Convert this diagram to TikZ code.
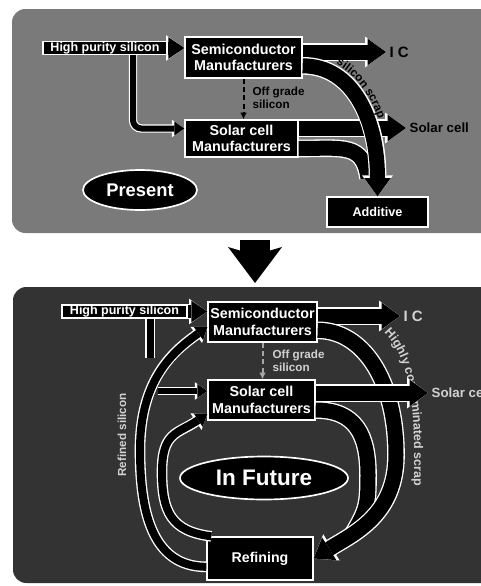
\documentclass[tikz,border=0pt]{standalone}
\usepackage{fontspec}
\setmainfont{Liberation Sans}
\usetikzlibrary{arrows.meta}
\usetikzlibrary{shapes.geometric}
\usetikzlibrary{decorations.text}

\begin{document}
\begin{tikzpicture}[x=0.6pt,y=-0.6pt]
  \tikzset{box/.style = {draw=white, fill=black, text=white, line width=0.8pt, align=center,
      inner sep=1pt, font=\bfseries\fontsize{8.6}{10}\selectfont}}
  \tikzset{oval/.style = {shape=ellipse, draw=white, fill=black, text=white, line width=1pt, inner sep=0pt}}
  \tikzset{lbl/.style = {font=\bfseries\fontsize{8}{9}\selectfont, inner sep=2pt}}
  \tikzset{band/.style = {line width=#1, preaction={draw=white, line width=#1+1.6pt}}}
  \tikzset{bigflow/.style = {line width=9pt, -{Triangle[width=16pt, length=11pt, line width=0pt]},
      preaction={draw=white, line width=10.6pt, -{Triangle[width=18.6pt, length=12.6pt, line width=0pt]}}}}
  \tikzset{boxflow/.style = {line width=7.8pt, -{Triangle[width=13pt, length=9.6pt, line width=0pt]},
      preaction={draw=white, line width=9.4pt, -{Triangle[width=15.4pt, length=11pt, line width=0pt]}}}}
  \tikzset{thinflow/.style = {line width=3.6pt, -{Triangle[width=8.4pt, length=6pt, line width=0pt]},
      preaction={draw=white, line width=5pt, -{Triangle[width=10.6pt, length=7.5pt, line width=0pt]}}}}
  \tikzset{arcflow/.style = {line width=4.8pt, -{Triangle[width=9.6pt, length=6.6pt, line width=0pt]},
      preaction={draw=white, line width=6.4pt, -{Triangle[width=12pt, length=8.2pt, line width=0pt]}}}}
  \tikzset{offgrade/.style = {draw=#1, densely dashed, line width=1.2pt, -{Latex[length=4pt, width=4pt]}},
    offgrade/.default=black}

  \useasboundingbox (0,0) rectangle (481,586);
  \clip (0,0) rectangle (481,586);
  \fill[white] (0,0) rectangle (481,586);

  % present
  \fill[black!52, rounded corners=8pt] (12,9) rectangle (500,233);

  \node[box, minimum width=74.4pt, minimum height=7.8pt, inner sep=0.3pt,
    font=\bfseries\fontsize{7.5}{8}\selectfont] (hps1) at (105,48) {High purity silicon};
  \node[box, minimum width=70.2pt, minimum height=24.6pt] (semi1) at (243.5,57.5) {Semiconductor\\Manufacturers};
  \node[box, minimum width=67.8pt, minimum height=22.2pt] (solar1) at (241.5,138.5) {Solar cell\\Manufacturers};
  \node[box, minimum width=60.6pt, minimum height=18pt,
    font=\bfseries\fontsize{7.6}{9}\selectfont] (additive) at (377.5,212) {Additive};
  \node[oval, minimum width=68.4pt, minimum height=24pt,
    font=\bfseries\fontsize{11}{12}\selectfont] (present) at (140,190) {Present};

  \node[lbl, anchor=west, font=\bfseries\fontsize{9}{10}\selectfont] (ic1) at (386,52) {I C};
  \node[lbl, anchor=west] (sc1) at (406,128) {Solar cell};
  \node[lbl, anchor=west, align=left, font=\bfseries\fontsize{7}{8}\selectfont] (og1) at (249,98) {Off grade\\silicon};

  \coordinate (split1) at (133,55);
  \coordinate (merge1) at (368,178);

  \draw[boxflow] (hps1.east) -- (hps1.east -| semi1.west);
  \draw[bigflow] (semi1.east |- ic1.west) -- (ic1.west);
  \draw[thinflow, rounded corners=5pt] (split1) |- ([yshift=6pt]solar1.west);
  \draw[offgrade] (semi1.south) -- (semi1.south |- solar1.north);
  \draw[bigflow] (solar1.east |- sc1.west) -- (sc1.west);
  \draw[band=9pt] ([yshift=-6pt]solar1.east) .. controls +(45,0) and +(-5,-35) .. (merge1);
  \draw[bigflow] ([yshift=-5pt]semi1.east) .. controls +(50,0) and +(0,-77) .. (additive.north);
  \path[decorate, decoration={text along path, text align=left,
      text={|\bfseries\fontsize{7}{8}\selectfont|silicon scrap}}]
    (336,64) .. controls (362,78) and (380,110) .. (386,150);

  % change
  \coordinate (dtop) at (255,240);
  \coordinate (dtip) at (255,283);
  \draw[line width=18pt, -{Stealth[length=21.6pt, width=32.4pt, inset=4.8pt, line width=0pt]}] (dtop) -- (dtip);

  % in future
  \fill[black!80, rounded corners=8pt] (13,287) rectangle (500,583);

  \node[box, minimum width=75pt, minimum height=7.8pt, inner sep=0.3pt,
    font=\bfseries\fontsize{7.5}{8}\selectfont] (hps2) at (124.5,311.5) {High purity silicon};
  \node[box, minimum width=65.4pt, minimum height=24pt] (semi2) at (262.5,322) {Semiconductor\\Manufacturers};
  \node[box, minimum width=64.2pt, minimum height=24pt] (solar2) at (261.5,400) {Solar cell\\Manufacturers};
  \node[oval, minimum width=100.8pt, minimum height=25.8pt,
    font=\bfseries\fontsize{13.5}{15}\selectfont] (future) at (264,478) {In Future};
  \node[box, minimum width=63.6pt, minimum height=25.8pt,
    font=\bfseries\fontsize{8.5}{10}\selectfont] (refine) at (260,558.5) {Refining};

  \node[lbl, anchor=west, text=gray!35, font=\bfseries\fontsize{9}{10}\selectfont] (ic2) at (400,316) {I C};
  \node[lbl, anchor=west, text=gray!35] (sc2) at (428,393) {Solar cell};
  \node[lbl, anchor=west, align=left, text=gray!35,
    font=\bfseries\fontsize{7}{8}\selectfont] (og2) at (269,361) {Off grade\\silicon};
  \node[lbl, rotate=90, text=gray!35, font=\bfseries\fontsize{7}{8}\selectfont] (refined) at (122,435) {Refined silicon};

  \coordinate (stub2) at (150,358);
  \coordinate (feed2) at (158,391);
  \coordinate (bend2) at (396,455);
  \coordinate (inner2) at (368,475);
  \coordinate (merge2) at (352,535);
  \coordinate (left2) at (140,450);
  \coordinate (left2b) at (162,472);

  \draw[boxflow] (hps2.east) -- (hps2.east -| semi2.west);
  \draw[bigflow] (semi2.east |- ic2.west) -- (ic2.west);
  \draw[band=4.2pt] (hps2.south -| stub2) -- (stub2);
  \draw[thinflow] (feed2) -- (feed2 -| solar2.west);
  \draw[offgrade=gray!70] (semi2.south) -- (semi2.south |- solar2.north);

  \draw[arcflow] ([yshift=-5pt]refine.west) .. controls +(-55,0) and +(0,60) .. (left2)
    .. controls +(0,-70) and +(-35,25) .. ([yshift=-3pt]semi2.west);
  \draw[arcflow] ([xshift=3pt]refine.north west) .. controls +(-40,-5) and +(0,40) .. (left2b)
    .. controls +(0,-40) and +(-30,20) .. ([yshift=4pt]solar2.south west);

  \draw[band=9pt] ([yshift=-6pt]solar2.east) .. controls +(40,0) and +(0,-40) .. (inner2)
    .. controls +(0,30) and +(15,-25) .. (merge2);
  \draw[bigflow] ([yshift=-5pt]semi2.east) .. controls +(45,0) and +(0,-75) .. (bend2)
    .. controls +(0,60) and +(40,-25) .. (refine.east);
  \path[decorate, decoration={text along path, text align=left, text color=gray!35,
      text={|\bfseries\fontsize{7.5}{8}\selectfont|Highly contaminated scrap}}]
    (384,333) .. controls (404,352) and (413,390) .. (414,440) -- (414,545);
  \draw[bigflow] (solar2.east |- sc2.west) -- (sc2.west);
\end{tikzpicture}
\end{document}
